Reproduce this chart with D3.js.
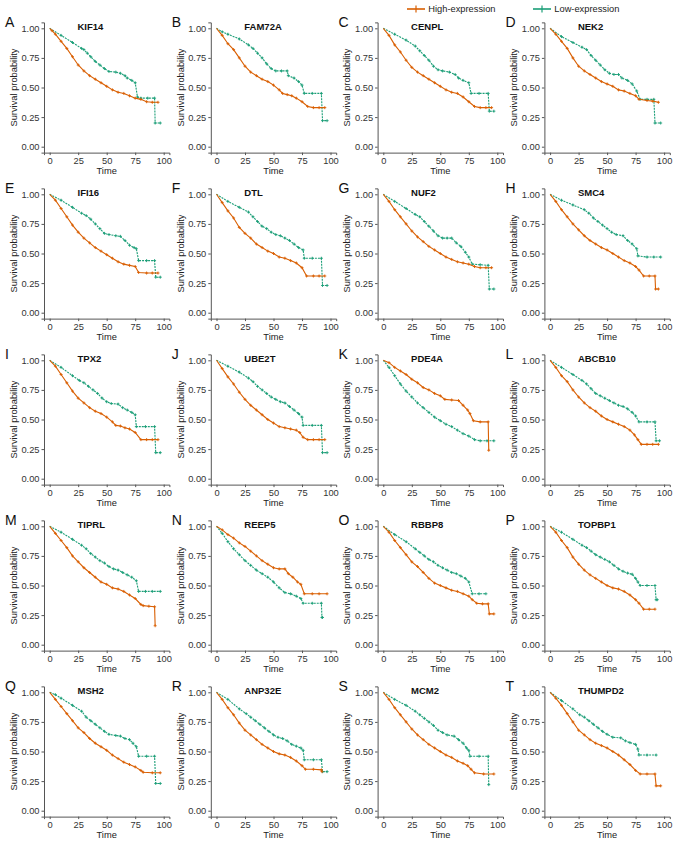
<!DOCTYPE html>
<html><head><meta charset="utf-8">
<script src="https://cdn.jsdelivr.net/npm/d3@7"></script>
<style>
html,body{margin:0;padding:0;background:#fff;}
svg{display:block;font-family:"Liberation Sans",Arial,Helvetica,sans-serif;}
</style></head>
<body>
<svg id="chart" width="677" height="842"></svg>
<script>
// ---------- data ----------
const panelLetters = ["A","B","C","D","E","F","G","H","I","J","K","L","M","N","O","P","Q","R","S","T"];
const genes = ["KIF14","FAM72A","CENPL","NEK2","IFI16","DTL","NUF2","SMC4","TPX2","UBE2T","PDE4A","ABCB10","TIPRL","REEP5","RBBP8","TOPBP1","MSH2","ANP32E","MCM2","THUMPD2"];
const groups = ["High-expression","Low-expression"];
const xTicks = [0,25,50,75,100];
const yTicks = [0,0.25,0.5,0.75,1];

// [time, survival probability]
const high_KIF14 = [[0,1],[2,0.98],[5,0.95],[10,0.89],[15,0.83],[20,0.76],[25,0.69],[30,0.64],[35,0.6],[40,0.57],[45,0.54],[50,0.51],[55,0.48],[60,0.46],[65,0.45],[70,0.43],[75,0.41],[80,0.4],[85,0.38],[90,0.375],[95,0.375]];
const low_KIF14 = [[0,1],[10,0.94],[20,0.88],[28,0.83],[30,0.82],[33,0.79],[36,0.76],[40,0.72],[44,0.69],[48,0.66],[52,0.635],[58,0.63],[62,0.62],[66,0.6],[68,0.58],[72,0.56],[75,0.54],[77,0.42],[80,0.41],[86,0.41],[92,0.41],[92.5,0.2],[97,0.2]];
const high_FAM72A = [[0,1],[5,0.94],[10,0.87],[15,0.82],[20,0.75],[25,0.68],[30,0.63],[35,0.6],[40,0.57],[45,0.55],[50,0.52],[55,0.48],[58,0.45],[62,0.44],[66,0.43],[70,0.41],[75,0.38],[80,0.34],[85,0.33],[90,0.33],[95,0.33]];
const low_FAM72A = [[0,1],[5,0.97],[10,0.95],[20,0.91],[28,0.86],[32,0.83],[36,0.79],[40,0.75],[44,0.7],[48,0.66],[52,0.64],[57,0.64],[62,0.64],[63,0.6],[68,0.58],[72,0.55],[75,0.52],[77,0.45],[84,0.45],[92,0.45],[93,0.22],[97,0.22]];
const high_CENPL = [[0,1],[5,0.94],[10,0.86],[15,0.8],[20,0.73],[25,0.67],[30,0.63],[35,0.6],[40,0.57],[45,0.54],[50,0.51],[55,0.48],[60,0.46],[65,0.45],[70,0.42],[75,0.38],[80,0.34],[85,0.33],[90,0.33],[95,0.33]];
const low_CENPL = [[0,1],[10,0.95],[20,0.9],[28,0.85],[32,0.81],[36,0.77],[40,0.73],[44,0.68],[48,0.65],[52,0.64],[58,0.63],[63,0.61],[66,0.58],[70,0.56],[75,0.54],[77,0.45],[84,0.45],[92,0.45],[93,0.3],[97,0.3]];
const high_NEK2 = [[0,1],[5,0.95],[10,0.89],[15,0.83],[20,0.75],[25,0.68],[30,0.64],[35,0.61],[40,0.58],[45,0.55],[50,0.53],[55,0.51],[60,0.48],[65,0.47],[70,0.45],[75,0.43],[78,0.4],[85,0.39],[90,0.385],[95,0.375]];
const low_NEK2 = [[0,1],[10,0.93],[20,0.88],[28,0.84],[32,0.82],[36,0.77],[40,0.73],[44,0.69],[48,0.65],[52,0.62],[56,0.61],[60,0.61],[63,0.58],[68,0.56],[72,0.53],[76,0.47],[79,0.4],[85,0.4],[91,0.4],[92,0.2],[97,0.2]];
const high_IFI16 = [[0,1],[5,0.95],[10,0.88],[15,0.81],[20,0.74],[25,0.68],[30,0.63],[35,0.59],[40,0.55],[45,0.52],[50,0.49],[55,0.46],[60,0.43],[65,0.41],[70,0.4],[75,0.39],[78,0.34],[85,0.335],[90,0.335],[95,0.335]];
const low_IFI16 = [[0,1],[10,0.95],[20,0.89],[28,0.84],[32,0.82],[36,0.79],[40,0.75],[44,0.71],[48,0.67],[52,0.66],[58,0.65],[62,0.645],[66,0.61],[70,0.57],[74,0.55],[76,0.54],[78,0.44],[85,0.44],[92,0.44],[93,0.3],[97,0.3]];
const high_DTL = [[0,1],[5,0.93],[10,0.86],[15,0.8],[20,0.72],[25,0.67],[30,0.63],[35,0.58],[40,0.55],[45,0.52],[50,0.5],[55,0.47],[60,0.46],[65,0.44],[70,0.42],[75,0.38],[79,0.31],[85,0.31],[90,0.31],[95,0.31]];
const low_DTL = [[0,1],[10,0.94],[20,0.89],[28,0.85],[32,0.81],[36,0.77],[40,0.73],[44,0.71],[48,0.68],[52,0.66],[56,0.65],[60,0.63],[64,0.61],[68,0.58],[72,0.55],[76,0.53],[77,0.46],[84,0.46],[92,0.46],[93,0.23],[97,0.23]];
const high_NUF2 = [[0,1],[5,0.94],[10,0.87],[15,0.81],[20,0.75],[25,0.69],[30,0.64],[35,0.6],[40,0.56],[45,0.53],[50,0.5],[55,0.47],[60,0.45],[65,0.43],[70,0.42],[75,0.41],[80,0.39],[85,0.38],[90,0.38],[95,0.38]];
const low_NUF2 = [[0,1],[10,0.94],[20,0.88],[28,0.83],[32,0.81],[36,0.77],[40,0.73],[44,0.69],[48,0.65],[52,0.63],[56,0.63],[60,0.63],[64,0.59],[68,0.56],[72,0.51],[75,0.47],[78,0.41],[85,0.405],[92,0.4],[93,0.2],[97,0.2]];
const high_SMC4 = [[0,1],[5,0.94],[10,0.87],[15,0.81],[20,0.75],[25,0.7],[30,0.65],[35,0.61],[40,0.58],[45,0.55],[50,0.53],[55,0.5],[60,0.47],[65,0.44],[70,0.42],[75,0.39],[78,0.36],[82,0.31],[87,0.31],[92,0.31],[92.5,0.2],[95,0.2]];
const low_SMC4 = [[0,1],[10,0.95],[20,0.91],[30,0.87],[34,0.84],[38,0.8],[42,0.77],[46,0.74],[50,0.71],[54,0.68],[58,0.66],[64,0.65],[68,0.61],[72,0.58],[76,0.54],[77,0.48],[85,0.47],[91,0.47],[97,0.47]];
const high_TPX2 = [[0,1],[5,0.95],[10,0.88],[15,0.81],[20,0.74],[25,0.68],[30,0.64],[35,0.6],[40,0.57],[45,0.55],[50,0.52],[55,0.48],[58,0.45],[62,0.445],[66,0.43],[70,0.42],[75,0.39],[80,0.33],[85,0.33],[90,0.33],[95,0.33]];
const low_TPX2 = [[0,1],[10,0.94],[20,0.87],[26,0.83],[30,0.81],[34,0.78],[38,0.75],[42,0.72],[46,0.68],[50,0.65],[54,0.635],[60,0.63],[64,0.6],[68,0.58],[72,0.56],[75,0.54],[76,0.44],[84,0.44],[92,0.44],[93,0.22],[97,0.22]];
const high_UBE2T = [[0,1],[5,0.93],[10,0.86],[15,0.8],[20,0.73],[25,0.67],[30,0.62],[35,0.58],[40,0.54],[45,0.5],[50,0.47],[55,0.44],[60,0.43],[65,0.42],[70,0.41],[73,0.39],[76,0.35],[80,0.33],[85,0.33],[90,0.33],[95,0.33]];
const low_UBE2T = [[0,1],[10,0.95],[20,0.9],[28,0.85],[32,0.82],[36,0.78],[40,0.75],[44,0.72],[48,0.69],[52,0.67],[56,0.65],[60,0.64],[64,0.61],[68,0.58],[72,0.55],[75,0.52],[76,0.45],[84,0.45],[92,0.45],[93,0.22],[97,0.22]];
const high_PDE4A = [[0,1],[5,0.98],[10,0.94],[15,0.91],[20,0.88],[25,0.84],[30,0.81],[35,0.77],[40,0.75],[45,0.72],[50,0.7],[54,0.67],[60,0.665],[66,0.66],[70,0.62],[74,0.58],[76,0.55],[79,0.49],[85,0.48],[92,0.48],[92.5,0.24]];
const low_PDE4A = [[0,1],[5,0.94],[10,0.87],[15,0.8],[20,0.74],[25,0.69],[30,0.64],[35,0.6],[40,0.56],[45,0.52],[50,0.49],[55,0.46],[60,0.44],[65,0.41],[70,0.38],[75,0.36],[80,0.33],[85,0.32],[91,0.32],[97,0.32]];
const high_ABCB10 = [[0,1],[5,0.94],[10,0.87],[15,0.82],[20,0.75],[25,0.69],[30,0.64],[35,0.6],[40,0.57],[45,0.53],[50,0.5],[55,0.48],[60,0.46],[65,0.44],[70,0.41],[74,0.37],[77,0.33],[80,0.29],[85,0.29],[90,0.29],[95,0.29]];
const low_ABCB10 = [[0,1],[10,0.94],[20,0.88],[28,0.83],[32,0.8],[36,0.76],[40,0.72],[44,0.7],[48,0.68],[52,0.66],[56,0.64],[60,0.62],[64,0.61],[68,0.59],[72,0.56],[75,0.53],[78,0.48],[85,0.48],[92,0.48],[93,0.32],[96,0.32]];
const high_TIPRL = [[0,1],[5,0.94],[10,0.88],[15,0.82],[20,0.75],[25,0.7],[30,0.65],[35,0.61],[40,0.57],[45,0.53],[50,0.51],[55,0.48],[60,0.47],[65,0.45],[70,0.42],[75,0.39],[80,0.34],[82,0.33],[87,0.325],[92,0.32],[92.5,0.16]];
const low_TIPRL = [[0,1],[10,0.95],[20,0.89],[28,0.84],[32,0.81],[36,0.77],[40,0.74],[44,0.71],[48,0.69],[52,0.66],[56,0.64],[60,0.63],[64,0.61],[68,0.59],[72,0.57],[76,0.54],[78,0.45],[84,0.45],[90,0.45],[97,0.45]];
const high_REEP5 = [[0,1],[5,0.97],[10,0.93],[15,0.9],[20,0.86],[25,0.83],[30,0.79],[35,0.75],[40,0.71],[45,0.68],[50,0.65],[55,0.64],[60,0.64],[63,0.6],[67,0.57],[71,0.53],[74,0.51],[77,0.43],[84,0.43],[90,0.43],[97,0.43]];
const low_REEP5 = [[0,1],[5,0.94],[10,0.87],[15,0.81],[20,0.76],[25,0.71],[30,0.67],[35,0.63],[40,0.6],[45,0.57],[50,0.53],[55,0.48],[60,0.44],[65,0.43],[70,0.41],[74,0.39],[76,0.35],[84,0.35],[92,0.35],[92.5,0.23],[93,0.23]];
const high_RBBP8 = [[0,1],[5,0.95],[10,0.88],[15,0.82],[20,0.76],[25,0.7],[30,0.66],[35,0.61],[40,0.56],[45,0.52],[50,0.5],[55,0.48],[60,0.46],[65,0.45],[70,0.43],[75,0.41],[78,0.38],[82,0.35],[87,0.345],[92,0.345],[93,0.26],[97,0.26]];
const low_RBBP8 = [[0,1],[10,0.93],[20,0.87],[28,0.81],[32,0.78],[36,0.75],[40,0.72],[44,0.7],[48,0.67],[52,0.65],[56,0.63],[60,0.61],[64,0.6],[68,0.58],[72,0.56],[75,0.53],[78,0.43],[84,0.43],[90,0.43]];
const high_TOPBP1 = [[0,1],[5,0.95],[10,0.88],[15,0.82],[20,0.74],[25,0.68],[30,0.63],[35,0.59],[40,0.56],[45,0.53],[50,0.5],[55,0.48],[60,0.47],[65,0.45],[70,0.42],[75,0.38],[78,0.35],[82,0.3],[87,0.3],[92,0.3]];
const low_TOPBP1 = [[0,1],[10,0.95],[20,0.89],[28,0.84],[32,0.82],[36,0.79],[40,0.76],[44,0.74],[48,0.72],[52,0.7],[56,0.67],[60,0.64],[64,0.62],[68,0.605],[72,0.595],[75,0.56],[77,0.53],[79,0.5],[85,0.5],[92,0.5],[93,0.38],[94,0.38]];
const high_MSH2 = [[0,1],[5,0.94],[10,0.88],[15,0.82],[20,0.76],[25,0.7],[30,0.66],[35,0.61],[40,0.57],[45,0.54],[50,0.51],[55,0.47],[60,0.44],[65,0.41],[70,0.39],[75,0.37],[80,0.34],[82,0.325],[90,0.32],[97,0.32]];
const low_MSH2 = [[0,1],[5,0.98],[10,0.95],[20,0.89],[28,0.84],[32,0.79],[36,0.76],[40,0.73],[44,0.7],[48,0.67],[52,0.645],[58,0.635],[62,0.63],[66,0.61],[70,0.6],[73,0.57],[76,0.54],[78,0.46],[85,0.46],[92,0.46],[93,0.23],[97,0.23]];
const high_ANP32E = [[0,1],[5,0.94],[10,0.87],[15,0.81],[20,0.74],[25,0.68],[30,0.64],[35,0.6],[40,0.56],[45,0.53],[50,0.5],[55,0.48],[60,0.47],[65,0.45],[70,0.42],[75,0.38],[78,0.35],[85,0.35],[92,0.345],[92.5,0.33]];
const low_ANP32E = [[0,1],[10,0.94],[20,0.86],[26,0.82],[30,0.79],[34,0.76],[38,0.73],[42,0.7],[46,0.67],[50,0.64],[54,0.62],[58,0.61],[62,0.59],[66,0.56],[70,0.545],[74,0.53],[76,0.51],[77,0.43],[85,0.43],[92,0.43],[93,0.33],[97,0.33]];
const high_MCM2 = [[0,1],[5,0.94],[10,0.87],[15,0.81],[20,0.75],[25,0.69],[30,0.64],[35,0.6],[40,0.56],[45,0.53],[50,0.5],[55,0.47],[60,0.45],[65,0.42],[70,0.4],[74,0.38],[77,0.35],[80,0.32],[88,0.31],[97,0.31]];
const low_MCM2 = [[0,1],[10,0.94],[20,0.89],[28,0.84],[32,0.81],[36,0.78],[40,0.75],[44,0.72],[48,0.68],[52,0.66],[56,0.64],[62,0.63],[66,0.6],[70,0.57],[73,0.53],[75,0.51],[76,0.46],[84,0.46],[92,0.46],[92.5,0.22]];
const high_THUMPD2 = [[0,1],[5,0.95],[10,0.89],[15,0.82],[20,0.75],[25,0.68],[30,0.64],[35,0.6],[40,0.57],[45,0.55],[50,0.53],[55,0.5],[60,0.47],[65,0.43],[70,0.39],[75,0.34],[79,0.31],[85,0.31],[92,0.31],[93,0.21],[97,0.21]];
const low_THUMPD2 = [[0,1],[10,0.93],[20,0.86],[26,0.81],[30,0.79],[34,0.76],[38,0.73],[42,0.7],[46,0.67],[50,0.645],[55,0.62],[62,0.615],[66,0.59],[70,0.575],[75,0.56],[77,0.52],[78,0.47],[85,0.47],[93,0.47]];

const highSeries = [high_KIF14,high_FAM72A,high_CENPL,high_NEK2,high_IFI16,high_DTL,high_NUF2,high_SMC4,high_TPX2,high_UBE2T,high_PDE4A,high_ABCB10,high_TIPRL,high_REEP5,high_RBBP8,high_TOPBP1,high_MSH2,high_ANP32E,high_MCM2,high_THUMPD2];
const lowSeries = [low_KIF14,low_FAM72A,low_CENPL,low_NEK2,low_IFI16,low_DTL,low_NUF2,low_SMC4,low_TPX2,low_UBE2T,low_PDE4A,low_ABCB10,low_TIPRL,low_REEP5,low_RBBP8,low_TOPBP1,low_MSH2,low_ANP32E,low_MCM2,low_THUMPD2];

// ---------- layout / style ----------
const colors = {high:"#D95F02", low:"#1B9E77"};
const FONT = 9.3;
const colX = j => 44 + 166.8*j;   // y-axis line x
const rowY = i => 28.3 + 166*i;   // y of 1.00
const xPxPerUnit = 1.14, yPxPerUnit = 118.4;

const svg = d3.select("#chart");

// legend
const legend = svg.append("g");
[{label:groups[0], c:colors.high, x:407},{label:groups[1], c:colors.low, x:533}].forEach(d=>{
  const g = legend.append("g").attr("transform",`translate(${d.x},9)`);
  g.append("line").attr("x1",0).attr("x2",18).attr("y1",0).attr("y2",0).attr("stroke",d.c).attr("stroke-width",1.6);
  g.append("line").attr("x1",9).attr("x2",9).attr("y1",-3.5).attr("y2",3.5).attr("stroke",d.c).attr("stroke-width",1.2);
  g.append("text").attr("x",21.3).attr("y",3.3).attr("font-size",FONT).attr("fill","#222").text(d.label);
});

genes.forEach((gene, k) => {
  const col = k % 4, row = Math.floor(k/4);
  const ax = colX(col), y1 = rowY(row);
  const x = d3.scaleLinear().domain([-5,105]).range([ax, ax + 110*xPxPerUnit]);
  const y = d3.scaleLinear().domain([-0.05,1.05]).range([y1 + 1.05*yPxPerUnit, y1 - 0.05*yPxPerUnit]);
  const g = svg.append("g");

  // axes
  const xAxis = g.append("g").attr("transform",`translate(0,${y(-0.05)})`)
    .call(d3.axisBottom(x).tickValues(xTicks).tickSize(2.5).tickPadding(2).tickFormat(d3.format("d")));
  const yAxis = g.append("g").attr("transform",`translate(${ax},0)`)
    .call(d3.axisLeft(y).tickValues(yTicks).tickSize(2.5).tickPadding(2).tickFormat(d3.format(".2f")));
  [xAxis,yAxis].forEach(a=>{
    a.select(".domain").attr("stroke","#555").attr("stroke-width",1);
    a.selectAll(".tick line").attr("stroke","#555");
    a.selectAll("text").attr("font-size",FONT).attr("fill","#333").attr("font-family",null);
  });
  xAxis.selectAll("text").attr("dy","0.72em");

  // axis titles
  g.append("text").attr("x",(x.range()[0]+x.range()[1])/2).attr("y",y(-0.05)+21.5)
    .attr("text-anchor","middle").attr("font-size",FONT).attr("fill","#222").text("Time");
  g.append("text").attr("transform",`translate(${ax-30.5},${y(0.5)}) rotate(-90)`)
    .attr("text-anchor","middle").attr("dy","0.35em").attr("font-size",FONT).attr("fill","#222").text("Survival probability");

  // title and panel letter
  g.append("text").attr("x",ax+33.5).attr("y",y1+1.5).attr("font-size",9.5).attr("font-weight","bold").attr("fill","#111").text(gene);
  g.append("text").attr("x",ax-39).attr("y",y1-1.5).attr("font-size",14).attr("fill","#111").text(panelLetters[k]);

  // curves
  const line = d3.line().x(d=>x(d[0])).y(d=>y(d[1]));
  const series = [{data:lowSeries[k], c:colors.low, dash:"2,1"},{data:highSeries[k], c:colors.high, dash:null}];
  series.forEach(s=>{
    g.append("path").attr("d",line(s.data)).attr("fill","none").attr("stroke",s.c)
      .attr("stroke-width",1.1).attr("stroke-dasharray",s.dash);
    const m = g.append("g").attr("stroke",s.c).attr("stroke-width",0.9);
    s.data.slice(1).forEach(d=>{
      const px=x(d[0]), py=y(d[1]);
      m.append("line").attr("x1",px-1.5).attr("x2",px+1.5).attr("y1",py).attr("y2",py);
      m.append("line").attr("x1",px).attr("x2",px).attr("y1",py-1.5).attr("y2",py+1.5);
    });
  });
});
</script>
</body></html>
